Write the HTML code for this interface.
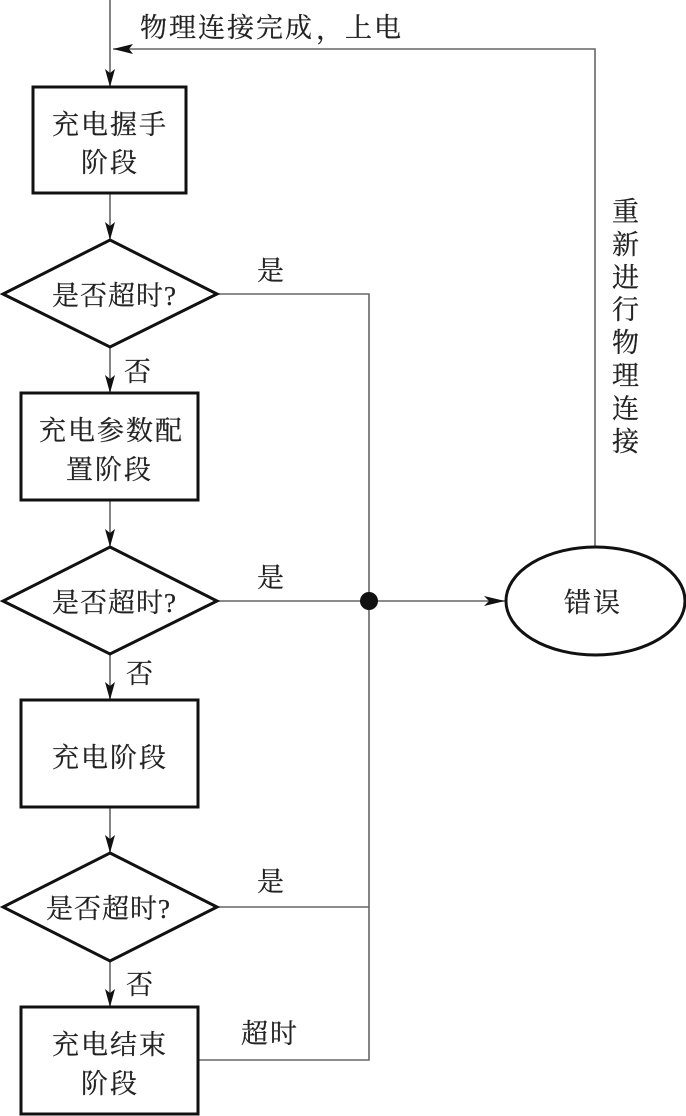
<!DOCTYPE html>
<html lang="zh">
<head>
<meta charset="utf-8">
<style>
html,body{margin:0;padding:0;background:#fff;width:686px;height:1116px;overflow:hidden}
svg{display:block;filter:blur(0.35px)}
text{font-family:"Liberation Serif","Noto Serif CJK SC",serif;font-size:27px;fill:#222;stroke:#222;stroke-width:0.25}
.l{fill:none;stroke:#666;stroke-width:1.6}
.s{fill:none;stroke:#111;stroke-width:3}
.a{fill:#111;stroke:none}
</style>
</head>
<body>
<svg width="686" height="1116" viewBox="0 0 686 1116" xmlns="http://www.w3.org/2000/svg">
<!-- connectors -->
<path class="l" d="M110 0V87M110 193V240M110 347V393M110 500V547M110 654V700M110 807V853M110 961V1007"/>
<path class="l" d="M595 547V49H113"/>
<path class="l" d="M217 294H369V1060H198M217 601H505M217 907H369"/>
<!-- arrowheads -->
<path class="a" d="M110 87L105 69L110 73L115 69Z"/>
<path class="a" d="M110 240L105 222L110 226L115 222Z"/>
<path class="a" d="M110 393L105 375L110 379L115 375Z"/>
<path class="a" d="M110 547L105 529L110 533L115 529Z"/>
<path class="a" d="M110 700L105 682L110 686L115 682Z"/>
<path class="a" d="M110 853L105 835L110 839L115 835Z"/>
<path class="a" d="M110 1007L105 989L110 993L115 989Z"/>
<path class="a" d="M113 49L133 44L129 49L133 54Z"/>
<path class="a" d="M505 601L484 596L489 601L484 606Z"/>
<circle class="a" cx="369" cy="601" r="9"/>
<!-- shapes -->
<rect class="s" x="33" y="87" width="153" height="106"/>
<rect class="s" x="21" y="393" width="177" height="107"/>
<rect class="s" x="21" y="700" width="177" height="107"/>
<rect class="s" x="21" y="1007" width="177" height="107"/>
<path class="s" d="M110 240L217 294L110 347L3 294Z"/>
<path class="s" d="M110 547L217 601L110 654L3 601Z"/>
<path class="s" d="M110 853L217 907L110 961L3 907Z"/>
<ellipse class="s" cx="595.5" cy="601" rx="89.5" ry="54"/>
<!-- labels -->
<text x="140" y="37" letter-spacing="2">物理连接完成</text>
<text x="316" y="39">，</text>
<text x="345" y="37" letter-spacing="2">上电</text>
<text x="52" y="134" letter-spacing="2">充电握手</text>
<text x="81" y="172" letter-spacing="2">阶段</text>
<text x="52" y="305" letter-spacing="1">是否超时?</text>
<text x="257" y="280">是</text>
<text x="124" y="381">否</text>
<text x="39" y="440" letter-spacing="2">充电参数配</text>
<text x="66" y="479" letter-spacing="2">置阶段</text>
<text x="52" y="612" letter-spacing="1">是否超时?</text>
<text x="257" y="587">是</text>
<text x="126" y="683">否</text>
<text x="52" y="767" letter-spacing="2">充电阶段</text>
<text x="46" y="918" letter-spacing="1">是否超时?</text>
<text x="257" y="891">是</text>
<text x="126" y="994">否</text>
<text x="52" y="1054" letter-spacing="2">充电结束</text>
<text x="81" y="1093" letter-spacing="2">阶段</text>
<text x="241" y="1043" letter-spacing="2">超时</text>
<text x="564" y="612" letter-spacing="2">错误</text>
<text x="612" y="221">重</text>
<text x="612" y="254">新</text>
<text x="612" y="287">进</text>
<text x="612" y="319">行</text>
<text x="612" y="352">物</text>
<text x="612" y="385">理</text>
<text x="612" y="418">连</text>
<text x="612" y="451">接</text>
</svg>
</body>
</html>
